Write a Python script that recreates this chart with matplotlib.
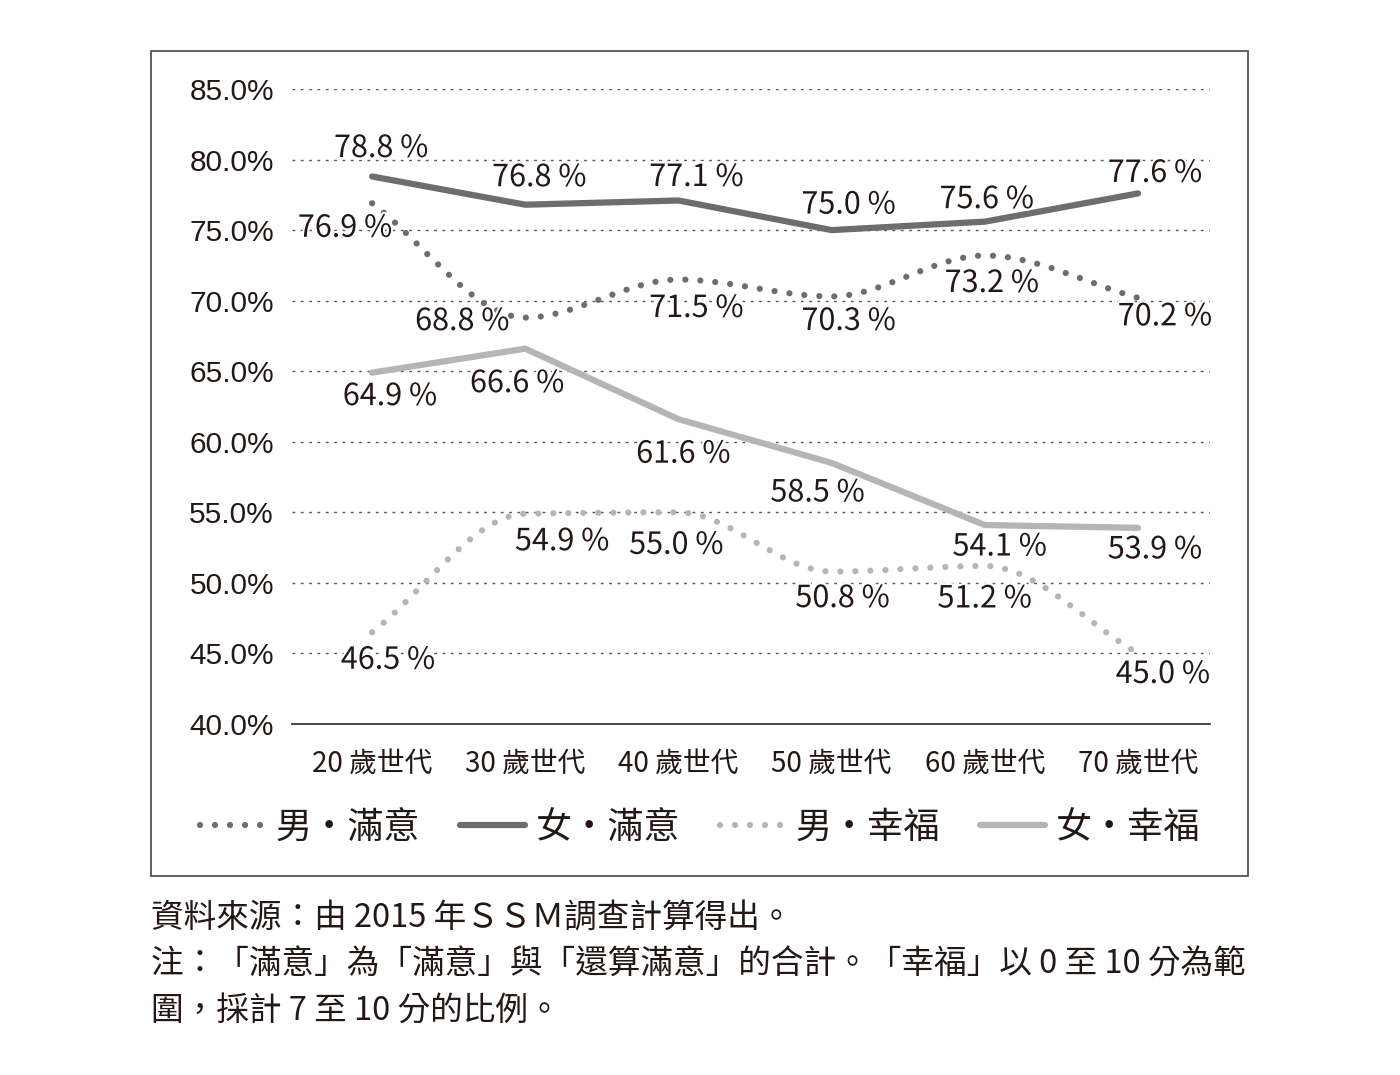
import matplotlib
matplotlib.use("Agg")
import matplotlib.pyplot as plt
from matplotlib.path import Path
from matplotlib.patches import PathPatch, Rectangle
from matplotlib.lines import Line2D
import matplotlib.patheffects as pe

plt.rcParams['font.family'] = ['Noto Sans CJK TC', 'DejaVu Sans']

# ---------------- data ----------------
categories = ["20 歲世代", "30 歲世代", "40 歲世代", "50 歲世代", "60 歲世代", "70 歲世代"]
male_satisfied = [76.9, 68.8, 71.5, 70.3, 73.2, 70.2]
female_satisfied = [78.8, 76.8, 77.1, 75.0, 75.6, 77.6]
male_happy = [46.5, 54.9, 55.0, 50.8, 51.2, 45.0]
female_happy = [64.9, 66.6, 61.6, 58.5, 54.1, 53.9]
series_names = ["男・滿意", "女・滿意", "男・幸福", "女・幸福"]
y_ticks = [40, 45, 50, 55, 60, 65, 70, 75, 80, 85]
note_lines = [
    "資料來源：由 2015 年ＳＳＭ調查計算得出。",
    "注：「滿意」為「滿意」與「還算滿意」的合計。「幸福」以 0 至 10 分為範",
    "圍，採計 7 至 10 分的比例。",
]

# ---------------- style ----------------
DARK = "#6d6d6d"
LIGHT = "#b5b5b5"
TXT = "#231815"

# label offsets in pixels (dx, dy; dy positive = up)
off_ms = [(-27, -25), (-63, -4), (18, -29), (17, -25), (7, -28), (27, -19)]
off_fs = [(9, 28), (14, 27), (18, 23), (17, 25), (2, 22), (17, 20)]
off_mh = [(16, -28), (37, -28), (-2, -33), (11, -27), (0, -33), (25, -21)]
off_fh = [(18, -24), (-8, -35), (5, -35), (-14, -30), (15, -22), (17, -22)]

fig = plt.figure(figsize=(14, 10.75), dpi=100)
ax = fig.add_axes([292 / 1400, 1 - 724 / 1075, (1210 - 292) / 1400, (724 - 89) / 1075])
x = list(range(len(categories)))
ax.set_xlim(-0.523, 5.47)
ax.set_ylim(40, 85)

for s in ["top", "right", "left"]:
    ax.spines[s].set_visible(False)
ax.spines["bottom"].set_color("#3a3a3a")
ax.spines["bottom"].set_linewidth(1.3)

for yv in y_ticks[1:]:
    ax.axhline(yv, color="#555555", lw=1.0, ls=(0, (2, 4)), zorder=0)

ax.set_yticks(y_ticks)
ax.set_yticklabels([f"{v:.1f}%" for v in y_ticks], family="Liberation Sans",
                   fontsize=21.5, color=TXT)
ax.set_xticks(x)
ax.set_xticklabels(categories, fontsize=20, color=TXT)
ax.tick_params(axis="y", length=0, pad=13)
ax.tick_params(axis="x", length=0, pad=18)


def smooth_path(xs, ys):
    """Monotone cubic (Fritsch-Carlson) Bezier path through the data points."""
    n = len(xs)
    d = [(ys[i + 1] - ys[i]) / (xs[i + 1] - xs[i]) for i in range(n - 1)]
    m = [d[0]]
    for i in range(1, n - 1):
        if d[i - 1] * d[i] <= 0:
            m.append(0.0)
        else:
            m.append(2.0 / (1.0 / d[i - 1] + 1.0 / d[i]))
    m.append(d[-1])
    verts = [(xs[0], ys[0])]
    codes = [Path.MOVETO]
    for i in range(n - 1):
        h = xs[i + 1] - xs[i]
        verts += [(xs[i] + h / 3, ys[i] + m[i] * h / 3),
                  (xs[i + 1] - h / 3, ys[i + 1] - m[i + 1] * h / 3),
                  (xs[i + 1], ys[i + 1])]
        codes += [Path.CURVE4] * 3
    return Path(verts, codes)


DOT_LS = (0, (0.001, 2.4))
dot_style = dict(lw=4.5, ls=DOT_LS, capstyle="round", fill=False)
ax.add_patch(PathPatch(smooth_path(x, male_satisfied), edgecolor=DARK, zorder=3, **dot_style))
ax.add_patch(PathPatch(smooth_path(x, male_happy), edgecolor=LIGHT, zorder=3, **dot_style))
ax.plot(x, female_satisfied, color=DARK, lw=4.5, solid_capstyle="round",
        solid_joinstyle="round", zorder=3)
ax.plot(x, female_happy, color=LIGHT, lw=4.5, solid_capstyle="round",
        solid_joinstyle="round", zorder=3)

halo = [pe.withStroke(linewidth=3, foreground="white")]
for vals, offs in [(male_satisfied, off_ms), (female_satisfied, off_fs),
                   (male_happy, off_mh), (female_happy, off_fh)]:
    for xi, v, (dx, dy) in zip(x, vals, offs):
        ax.annotate(f"{v:.1f} %", (xi, v), xytext=(dx * 0.72, dy * 0.72),
                    textcoords="offset points", ha="center", va="center",
                    fontsize=22, fontweight="light", color=TXT, zorder=5,
                    path_effects=halo)

handles = [
    Line2D([], [], color=DARK, lw=4.5, ls=DOT_LS, dash_capstyle="round"),
    Line2D([], [], color=DARK, lw=4.5, solid_capstyle="round"),
    Line2D([], [], color=LIGHT, lw=4.5, ls=DOT_LS, dash_capstyle="round"),
    Line2D([], [], color=LIGHT, lw=4.5, solid_capstyle="round"),
]
leg = fig.legend(handles, series_names, loc="center", bbox_to_anchor=(0.5, 1 - 828 / 1075),
                 ncol=4, frameon=False, fontsize=26, handlelength=1.8, handletextpad=0.3,
                 columnspacing=1.1)
for t in leg.get_texts():
    t.set_color(TXT)

fig.patches.append(Rectangle((151 / 1400, 1 - 876 / 1075), (1248 - 151) / 1400,
                             (876 - 51) / 1075, transform=fig.transFigure,
                             fill=False, edgecolor="#555555", lw=1.3))

for i, line in enumerate(note_lines):
    fig.text(151 / 1400, 1 - (918 + 46.5 * i) / 1075, line, fontsize=23.5,
             fontweight="light", color=TXT, ha="left", va="center")

fig.savefig("out.png", dpi=100, facecolor="white")
